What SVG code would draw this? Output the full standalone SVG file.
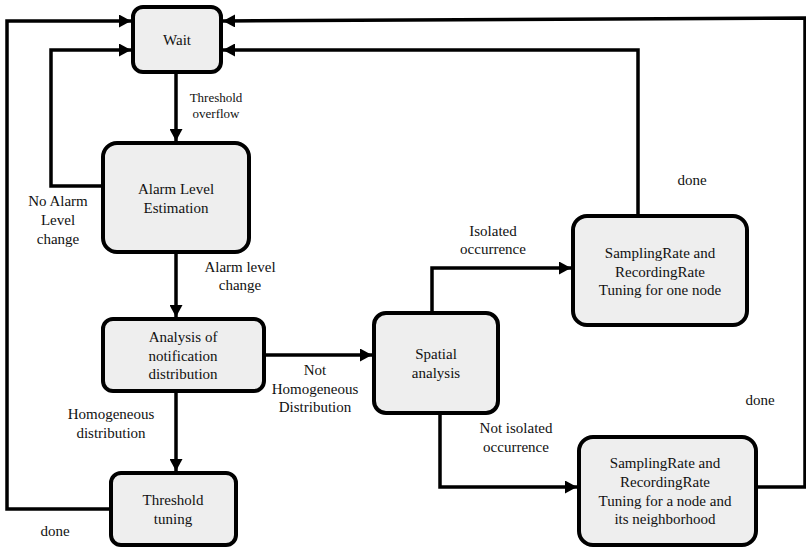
<svg xmlns="http://www.w3.org/2000/svg" width="806" height="548" viewBox="0 0 806 548">
  <style>
    .box { fill: #eeeeee; stroke: #000; stroke-width: 4; }
    .t { font-family: "Liberation Serif", "DejaVu Serif", "Times New Roman", serif; font-size: 15px; fill: #111; text-anchor: middle; }
    .s { font-size: 13px; }
    .wire { fill: none; stroke: #000; stroke-width: 3.5; stroke-linejoin: miter; }
  </style>
  <defs>
    <marker id="arrow" markerUnits="userSpaceOnUse" markerWidth="13" markerHeight="13" refX="12" refY="6.5" orient="auto">
      <path d="M0,0 L12,6.5 L0,13 z" fill="#000"/>
    </marker>
  </defs>

  <rect width="806" height="548" fill="#fff"/>

  <g id="connectors">
    <path class="wire" d="M176,73 V141" marker-end="url(#arrow)"/>
    <path class="wire" d="M176,253 V317" marker-end="url(#arrow)"/>
    <path class="wire" d="M176,392 V471" marker-end="url(#arrow)"/>
    <path class="wire" d="M265,355 H372" marker-end="url(#arrow)"/>
    <path class="wire" d="M103,186 H51 V50 H131" marker-end="url(#arrow)"/>
    <path class="wire" d="M111,509 H7 V21 H131" marker-end="url(#arrow)"/>
    <path class="wire" d="M432,312 V268 H571" marker-end="url(#arrow)"/>
    <path class="wire" d="M440,414 V487 H577" marker-end="url(#arrow)"/>
    <path class="wire" d="M638,215 V50 H223" marker-end="url(#arrow)"/>
    <path class="wire" d="M757,487 H805 V18 L223,21" marker-end="url(#arrow)"/>
  </g>

  <g id="wait">
    <rect class="box" x="133" y="7" width="88" height="65" rx="10"/>
    <text class="t" x="177" y="45">Wait</text>
  </g>

  <g id="alarm-level-estimation">
    <rect class="box" x="103" y="143" width="146" height="109" rx="14"/>
    <text class="t" x="176" y="194">Alarm Level</text>
    <text class="t" x="176" y="213">Estimation</text>
  </g>

  <g id="analysis">
    <rect class="box" x="103" y="319" width="161" height="72" rx="10"/>
    <text class="t" x="183" y="342">Analysis of</text>
    <text class="t" x="183" y="361">notification</text>
    <text class="t" x="183" y="379">distribution</text>
  </g>

  <g id="threshold-tuning">
    <rect class="box" x="111" y="473" width="125" height="72" rx="10"/>
    <text class="t" x="173" y="505">Threshold</text>
    <text class="t" x="173" y="524">tuning</text>
  </g>

  <g id="spatial-analysis">
    <rect class="box" x="374" y="313" width="124" height="100" rx="12"/>
    <text class="t" x="436" y="359">Spatial</text>
    <text class="t" x="436" y="378">analysis</text>
  </g>

  <g id="tuning-one-node">
    <rect class="box" x="573" y="216" width="174" height="109" rx="14"/>
    <text class="t" x="660" y="258">SamplingRate and</text>
    <text class="t" x="660" y="277">RecordingRate</text>
    <text class="t" x="660" y="295">Tuning for one node</text>
  </g>

  <g id="tuning-neighborhood">
    <rect class="box" x="579" y="437" width="177" height="108" rx="14"/>
    <text class="t" x="665" y="468">SamplingRate and</text>
    <text class="t" x="665" y="487">RecordingRate</text>
    <text class="t" x="665" y="506">Tuning for a node and</text>
    <text class="t" x="665" y="524">its neighborhood</text>
  </g>

  <g id="labels">
    <text class="t s" x="216" y="102">Threshold</text>
    <text class="t s" x="216" y="118">overflow</text>
    <text class="t" x="58" y="206">No Alarm</text>
    <text class="t" x="58" y="225">Level</text>
    <text class="t" x="58" y="244">change</text>
    <text class="t" x="240" y="272">Alarm level</text>
    <text class="t" x="240" y="290">change</text>
    <text class="t" x="111" y="419">Homogeneous</text>
    <text class="t" x="111" y="438">distribution</text>
    <text class="t" x="315" y="375">Not</text>
    <text class="t" x="315" y="394">Homogeneous</text>
    <text class="t" x="315" y="412">Distribution</text>
    <text class="t" x="55" y="536">done</text>
    <text class="t" x="493" y="236">Isolated</text>
    <text class="t" x="493" y="254">occurrence</text>
    <text class="t" x="516" y="433">Not isolated</text>
    <text class="t" x="516" y="452">occurrence</text>
    <text class="t" x="692" y="185">done</text>
    <text class="t" x="760" y="405">done</text>
  </g>
</svg>
